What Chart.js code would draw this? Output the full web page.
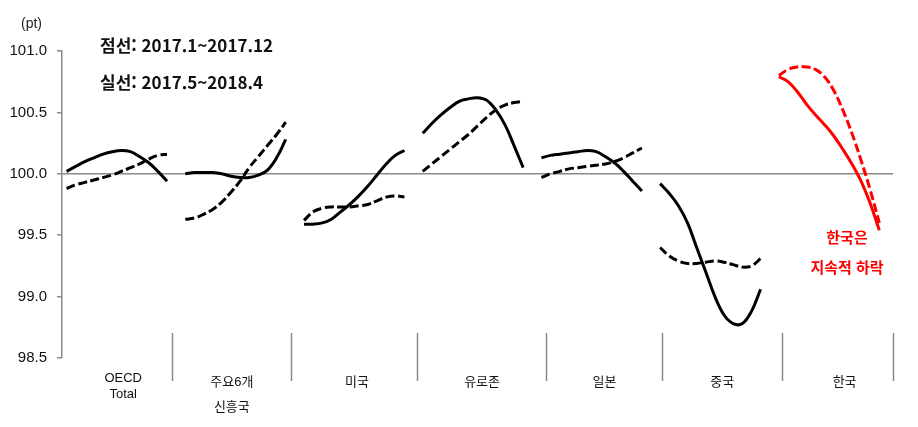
<!DOCTYPE html>
<html lang="ko">
<head>
<meta charset="utf-8">
<title>경기선행지수 비교</title>
<script src="https://cdn.jsdelivr.net/npm/chart.js@4/dist/chart.umd.min.js"></script>
<style>
  html, body { margin: 0; padding: 0; background: #fff; }
  #wrap { position: relative; width: 918px; height: 427px; overflow: hidden; }
  #chart { position: absolute; left: 0; top: 0; }
  .note { position: absolute; white-space: nowrap; }
  #unit { left: 21px; top: 14px; font: 14px "Liberation Sans", Arial, sans-serif; color: #222; line-height: 18px; }
  .legend { left: 100px; font: bold 17px "Noto Sans CJK KR", "Liberation Sans", sans-serif; color: #111; line-height: 20px; }
  #l1 { top: 35px; }
  #l2 { top: 72px; }
  .red { left: 787px; width: 120px; text-align: center; font: bold 15px "Noto Sans CJK KR", sans-serif; color: #ff0000; line-height: 20px; }
  #r1 { top: 227px; }
  #r2 { top: 257px; }
</style>
</head>
<body>
<div id="wrap">
  <canvas id="chart" width="918" height="427"></canvas>
  <div id="unit" class="note">(pt)</div>
  <div id="l1" class="note legend">점선: 2017.1~2017.12</div>
  <div id="l2" class="note legend">실선: 2017.5~2018.4</div>
  <div id="r1" class="note red">한국은</div>
  <div id="r2" class="note red">지속적 하락</div>
</div>
<script>
// Group names shown under the axis
const groupNames = [['OECD', 'Total'], ['주요6개', '신흥국'], '미국', '유로존', '일본', '중국', '한국'];

// Dashed line: 2017.1 ~ 2017.12 (12 months per group)
const oecdDashed   = [99.88, 99.91, 99.93, 99.95, 99.97, 99.99, 100.02, 100.05, 100.08, 100.12, 100.15, 100.16];
const emDashed     = [99.63, 99.64, 99.67, 99.71, 99.77, 99.85, 99.94, 100.05, 100.14, 100.23, 100.32, 100.42];
const usDashed     = [99.62, 99.69, 99.72, 99.73, 99.73, 99.73, 99.74, 99.75, 99.78, 99.81, 99.82, 99.81];
const euroDashed   = [100.02, 100.08, 100.14, 100.20, 100.26, 100.32, 100.39, 100.46, 100.52, 100.56, 100.58, 100.59];
const japanDashed  = [99.97, 100.00, 100.02, 100.04, 100.05, 100.06, 100.07, 100.08, 100.10, 100.13, 100.17, 100.21];
const chinaDashed  = [99.40, 99.33, 99.29, 99.27, 99.27, 99.28, 99.29, 99.28, 99.26, 99.24, 99.25, 99.31];
const koreaDashed  = [100.80, 100.85, 100.87, 100.87, 100.85, 100.79, 100.68, 100.52, 100.33, 100.11, 99.87, 99.60];

// Solid line: 2017.5 ~ 2018.4
const oecdSolid    = [100.02, 100.06, 100.10, 100.13, 100.16, 100.18, 100.19, 100.18, 100.14, 100.09, 100.02, 99.94];
const emSolid      = [100.00, 100.01, 100.01, 100.01, 100.00, 99.98, 99.97, 99.97, 99.99, 100.03, 100.13, 100.28];
const usSolid      = [99.59, 99.59, 99.60, 99.63, 99.69, 99.75, 99.82, 99.90, 99.99, 100.08, 100.15, 100.19];
const euroSolid    = [100.33, 100.41, 100.48, 100.54, 100.59, 100.61, 100.62, 100.60, 100.52, 100.40, 100.23, 100.05];
const japanSolid   = [100.13, 100.15, 100.16, 100.17, 100.18, 100.19, 100.18, 100.14, 100.09, 100.02, 99.94, 99.86];
const chinaSolid   = [99.92, 99.84, 99.74, 99.60, 99.40, 99.20, 99.00, 98.85, 98.78, 98.78, 98.88, 99.06];
const koreaSolid   = [100.79, 100.75, 100.67, 100.57, 100.48, 100.40, 100.31, 100.20, 100.08, 99.94, 99.76, 99.54];

const dashedByGroup = [oecdDashed, emDashed, usDashed, euroDashed, japanDashed, chinaDashed, koreaDashed];
const solidByGroup  = [oecdSolid, emSolid, usSolid, euroSolid, japanSolid, chinaSolid, koreaSolid];

// Y axis ticks
const yTicks = [98.5, 99.0, 99.5, 100.0, 100.5, 101.0];

// Category slots: 12 months per group plus one empty slot between groups
const SLOTS_PER_GROUP = 13;
const labelSlots = [6.2, 18.1, 31.8, 45.5, 58.9, 71.8, 85.2];
const dividerSlots = [11.55, 24.58, 38.38, 52.5, 65.2, 78.36, 90.5];

const toPoints = (vals, g) => vals.map((v, i) => ({ x: g * SLOTS_PER_GROUP + i, y: v }));

const datasets = [];
groupNames.forEach((name, g) => {
  const color = g === groupNames.length - 1 ? '#ff0000' : '#000000';
  datasets.push({
    label: '점선',
    data: toPoints(dashedByGroup[g], g),
    borderColor: color,
    borderWidth: 3,
    borderDash: [9, 3.5],
    tension: 0.4,
    pointRadius: 0,
    fill: false
  });
  datasets.push({
    label: '실선',
    data: toPoints(solidByGroup[g], g),
    borderColor: color,
    borderWidth: 3,
    tension: 0.4,
    pointRadius: 0,
    fill: false
  });
});

// Vertical dividers between groups on the category axis
const groupDividers = {
  id: 'groupDividers',
  afterDraw(chart) {
    const { ctx, chartArea, scales } = chart;
    ctx.save();
    ctx.strokeStyle = '#8a8a8a';
    ctx.lineWidth = 1.5;
    dividerSlots.forEach(v => {
      const x = Math.round(scales.x.getPixelForValue(v)) + 0.5;
      ctx.beginPath();
      ctx.moveTo(x, chartArea.bottom - 25);
      ctx.lineTo(x, chartArea.bottom + 23);
      ctx.stroke();
    });
    ctx.restore();
  }
};

new Chart(document.getElementById('chart'), {
  type: 'line',
  data: { datasets },
  options: {
    responsive: false,
    animation: false,
    layout: { padding: { top: 51, right: 25, bottom: 0, left: 0 } },
    plugins: { legend: { display: false }, tooltip: { enabled: false } },
    scales: {
      x: {
        type: 'linear',
        min: -0.5,
        max: 90.5,
        afterFit(scale) { scale.height = 69; },
        afterBuildTicks(scale) { scale.ticks = labelSlots.map(v => ({ value: v })); },
        grid: { display: false, drawTicks: false },
        border: { display: false },
        ticks: {
          autoSkip: false,
          maxRotation: 0,
          padding: 12,
          color: '#111',
          font: (c) => ({
            family: '"Liberation Sans", "Noto Sans CJK KR", sans-serif',
            size: 13,
            lineHeight: c.index === 0 ? '16px' : '25px'
          }),
          callback: (value, index) => groupNames[index]
        }
      },
      y: {
        min: 98.5,
        max: 101,
        afterFit(scale) { scale.width = 62; },
        afterBuildTicks(scale) { scale.ticks = yTicks.map(v => ({ value: v })); },
        border: { display: true, color: '#8a8a8a', width: 1.5 },
        grid: {
          drawTicks: true,
          tickLength: 5,
          tickColor: '#8a8a8a',
          lineWidth: 1.5,
          color: (c) => (c.tick && c.tick.value === 100 ? '#8a8a8a' : 'rgba(0,0,0,0)')
        },
        ticks: {
          padding: 10,
          color: '#111',
          font: { family: '"Liberation Sans", Arial, sans-serif', size: 15 },
          callback: (v) => Number(v).toFixed(1)
        }
      }
    }
  },
  plugins: [groupDividers]
});
</script>
</body>
</html>
